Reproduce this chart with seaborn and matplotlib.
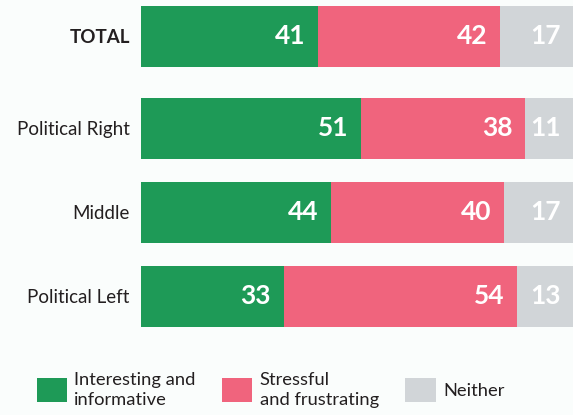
import pandas as pd
import matplotlib.pyplot as plt
import seaborn as sns
from matplotlib.patches import Patch

# data
groups = ["TOTAL", "Political Right", "Middle", "Political Left"]
interesting = [41, 51, 44, 33]
stressful = [42, 38, 40, 54]
neither = [17, 11, 17, 13]
series_names = ["Interesting and\ninformative", "Stressful\nand frustrating", "Neither"]

colors = ["#1e9a57", "#f0647d", "#d1d5d8"]
bg = "#fafdfc"
txt = "#231f20"

sns.set_theme(style="white")
plt.rcParams["font.family"] = ["Lato", "DejaVu Sans"]

df = pd.DataFrame({"group": groups, "interesting": interesting,
                   "stressful": stressful, "neither": neither})
# TOTAL sits a little further away from the rest
df["pos"] = [0, 1.095, 2.095, 3.095]
df["c1"] = df["interesting"]
df["c2"] = df["interesting"] + df["stressful"]
df["c3"] = df["c2"] + df["neither"]

fig = plt.figure(figsize=(5.73, 4.15), dpi=100, facecolor=bg)
ax = fig.add_axes([0.246, 1 - 335 / 415, 0.754, 335 / 415])
ax.set_facecolor(bg)

# stacked bars drawn as overlaid cumulative sums
for col, c in zip(["c3", "c2", "c1"], colors[::-1]):
    sns.barplot(data=df, x=col, y="pos", orient="y", native_scale=True,
                width=0.726, color=c, saturation=1, errorbar=None,
                linewidth=0, ax=ax)

ax.set_xlim(0, 100)
ax.set_ylim(3.554, -0.4345)
ax.set_yticks(df["pos"])
ax.set_yticklabels(groups)
for lab in ax.get_yticklabels():
    lab.set_fontsize(13.5)
    lab.set_color(txt)
ax.get_yticklabels()[0].set_fontweight("bold")
ax.tick_params(axis="y", length=0, pad=8)
ax.set_xticks([])
ax.set_xlabel("")
ax.set_ylabel("")
sns.despine(ax=ax, left=True, bottom=True)

# value labels at the right end of each segment
for _, row in df.iterrows():
    for val, end in [(row["interesting"], row["c1"]),
                     (row["stressful"], row["c2"]),
                     (row["neither"], row["c3"])]:
        ax.annotate(f"{val:.0f}", xy=(min(end, 100), row["pos"]), xytext=(-9, 0),
                    textcoords="offset points", ha="right", va="center",
                    color="white", fontsize=19, fontweight="bold",
                    annotation_clip=False)

handles = [Patch(facecolor=c, edgecolor="none") for c in colors]
leg = fig.legend(handles, series_names, loc="lower left", bbox_to_anchor=(0.035, -0.022),
                 ncol=3, frameon=False, fontsize=13.2, labelcolor=txt,
                 handlelength=1.65, handleheight=1.65, handletextpad=0.4,
                 columnspacing=1.45, labelspacing=0.1)
for t in leg.get_texts():
    t.set_linespacing(1.3)

fig.savefig("out.png", dpi=100, facecolor=bg)
